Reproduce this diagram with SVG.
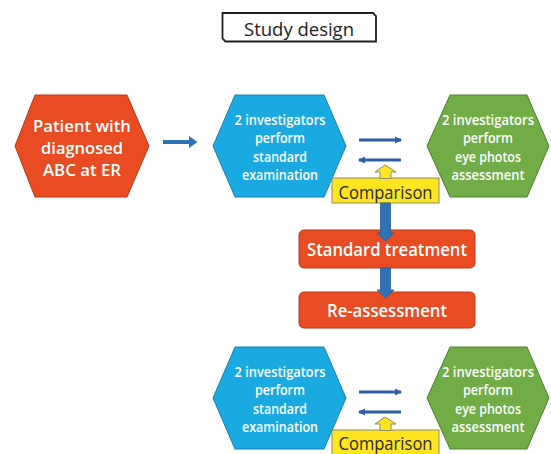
<svg xmlns="http://www.w3.org/2000/svg" width="551" height="454" viewBox="0 0 551 454">
<defs>
<style>
.t{font-family:"Open Sans","Noto Sans","DejaVu Sans",sans-serif;text-anchor:middle}
.w{fill:#ffffff;font-weight:600}
.hb{fill:#1aa9e0;stroke:#1583b0;stroke-width:1}
.hg{fill:#70ad47;stroke:#507e32;stroke-width:1}
.hr{fill:#e94b22;stroke:#b8391a;stroke-width:1}
.box{fill:#e94b22;stroke:#b8391a;stroke-width:1}
.cmp{fill:#ffe51f;stroke:#8a8a6a;stroke-width:1}
.thin{stroke:#2d5fa6;stroke-width:3;fill:none}
.blk{fill:#2e73b8;stroke:#245d96;stroke-width:0.8}
</style>
<marker id="ah" viewBox="0 0 6 6" refX="5" refY="3" markerWidth="2.4" markerHeight="2.4" orient="auto" markerUnits="strokeWidth">
<path d="M0,0 L6,3 L0,6 Z" fill="#2d5fa6"/>
</marker>
</defs>

<g id="title">
<path d="M222.5,13 H373 L376,16 V41.5 H225.5 L222.5,38.5 Z" fill="#ffffff" stroke="#1e1e1e" stroke-width="1.8"/>
<text class="t" x="299" y="35.5" font-size="18" fill="#222" textLength="110" lengthAdjust="spacingAndGlyphs">Study design</text>
</g>

<g id="patient">
<polygon class="hr" points="15,146 35,95 127,95 149,146 127,197 35,197"/>
<text class="t w" x="82" y="131.5" font-size="16.5" textLength="98" lengthAdjust="spacingAndGlyphs">Patient with</text>
<text class="t w" x="82" y="153.5" font-size="16.5" textLength="82" lengthAdjust="spacingAndGlyphs">diagnosed</text>
<text class="t w" x="82" y="175.5" font-size="16.5" textLength="78" lengthAdjust="spacingAndGlyphs">ABC at ER</text>
</g>

<g id="std-exam-1">
<polygon class="hb" points="213,146 235,95 324,95 346,146 324,197 235,197"/>
<text class="t w" x="280" y="124.5" font-size="14" textLength="91" lengthAdjust="spacingAndGlyphs">2 investigators</text>
<text class="t w" x="280" y="143" font-size="14" textLength="50" lengthAdjust="spacingAndGlyphs">perform</text>
<text class="t w" x="280" y="161.5" font-size="14" textLength="54" lengthAdjust="spacingAndGlyphs">standard</text>
<text class="t w" x="280" y="180" font-size="14" textLength="76" lengthAdjust="spacingAndGlyphs">examination</text>
</g>

<g id="eye-photo-1">
<polygon class="hg" points="427,146 450,95 527,95 549,146 527,197 450,197"/>
<text class="t w" x="488" y="124.5" font-size="14" textLength="92" lengthAdjust="spacingAndGlyphs">2 investigators</text>
<text class="t w" x="488" y="143" font-size="14" textLength="50" lengthAdjust="spacingAndGlyphs">perform</text>
<text class="t w" x="488" y="161.5" font-size="14" textLength="66" lengthAdjust="spacingAndGlyphs">eye photos</text>
<text class="t w" x="488" y="180" font-size="14" textLength="73" lengthAdjust="spacingAndGlyphs">assessment</text>
</g>

<g id="comparison-1">
<rect class="cmp" x="332" y="178" width="107" height="25"/>
<path class="cmp" d="M385,165 L396,172 L391,172 L391,178.5 L380,178.5 L380,172 L375,172 Z"/>
<text class="t" x="385.5" y="198.5" font-size="17.5" fill="#2a2a2a" textLength="94" lengthAdjust="spacingAndGlyphs">Comparison</text>
</g>

<g id="standard-treatment">
<rect class="box" x="299" y="230" width="176" height="38" rx="5"/>
<text class="t w" x="387" y="256" font-size="18.5" textLength="160" lengthAdjust="spacingAndGlyphs">Standard treatment</text>
</g>

<g id="re-assessment">
<rect class="box" x="299" y="292" width="176" height="36" rx="5"/>
<text class="t w" x="387" y="317" font-size="18.5" textLength="120" lengthAdjust="spacingAndGlyphs">Re-assessment</text>
</g>

<g id="std-exam-2">
<polygon class="hb" points="213,398 235,347 324,347 346,398 324,449 235,449"/>
<text class="t w" x="280" y="376.5" font-size="14" textLength="91" lengthAdjust="spacingAndGlyphs">2 investigators</text>
<text class="t w" x="280" y="395" font-size="14" textLength="50" lengthAdjust="spacingAndGlyphs">perform</text>
<text class="t w" x="280" y="413.5" font-size="14" textLength="54" lengthAdjust="spacingAndGlyphs">standard</text>
<text class="t w" x="280" y="432" font-size="14" textLength="76" lengthAdjust="spacingAndGlyphs">examination</text>
</g>

<g id="eye-photo-2">
<polygon class="hg" points="427,398 450,347 527,347 549,398 527,449 450,449"/>
<text class="t w" x="488" y="376.5" font-size="14" textLength="92" lengthAdjust="spacingAndGlyphs">2 investigators</text>
<text class="t w" x="488" y="395" font-size="14" textLength="50" lengthAdjust="spacingAndGlyphs">perform</text>
<text class="t w" x="488" y="413.5" font-size="14" textLength="66" lengthAdjust="spacingAndGlyphs">eye photos</text>
<text class="t w" x="488" y="432" font-size="14" textLength="73" lengthAdjust="spacingAndGlyphs">assessment</text>
</g>

<g id="comparison-2">
<rect class="cmp" x="332" y="430" width="107" height="26"/>
<path class="cmp" d="M385,417 L396,424 L391,424 L391,430.5 L380,430.5 L380,424 L375,424 Z"/>
<text class="t" x="385.5" y="450" font-size="17.5" fill="#2a2a2a" textLength="94" lengthAdjust="spacingAndGlyphs">Comparison</text>
</g>

<g id="connectors">
<path d="M163,142 H190" stroke="#2e73b8" stroke-width="4" fill="none"/>
<polygon points="189,136 197.5,142 189,148" fill="#2e73b8"/>
<line class="thin" x1="359" y1="140" x2="401" y2="140" marker-end="url(#ah)"/>
<line class="thin" x1="401" y1="160" x2="359" y2="160" marker-end="url(#ah)"/>
<line class="thin" x1="359" y1="392" x2="401" y2="392" marker-end="url(#ah)"/>
<line class="thin" x1="401" y1="412" x2="359" y2="412" marker-end="url(#ah)"/>
<path class="blk" d="M380.5,203 H390.5 V233 H394 L385.5,241 L377,233 H380.5 Z"/>
<path class="blk" d="M380.5,268 H390.5 V290 H394 L385.5,298 L377,290 H380.5 Z"/>
</g>
</svg>
